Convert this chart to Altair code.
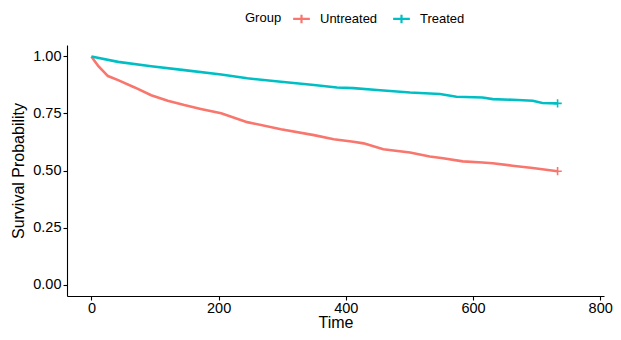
import altair as alt
import pandas as pd

groups = ["Untreated", "Treated"]
colors = ["#F8766D", "#00BFC4"]

untreated_time = [0, 5, 11, 26, 42, 68, 94, 120, 146, 172, 204, 245, 298, 350, 381, 412,
                  428, 459, 501, 532, 553, 584, 615, 631, 662, 694, 733]
untreated_surv = [1.0, 0.98, 0.957, 0.914, 0.896, 0.864, 0.830, 0.806, 0.787, 0.770, 0.751,
                  0.712, 0.681, 0.655, 0.637, 0.626, 0.619, 0.593, 0.579, 0.561, 0.554, 0.540,
                  0.535, 0.532, 0.521, 0.511, 0.497]

treated_time = [0, 42, 94, 146, 204, 245, 298, 350, 386, 412, 449, 501, 548, 574, 615, 631,
                662, 694, 709, 733]
treated_surv = [1.0, 0.976, 0.957, 0.940, 0.921, 0.904, 0.889, 0.875, 0.864, 0.861, 0.853,
                0.842, 0.835, 0.823, 0.820, 0.813, 0.810, 0.806, 0.796, 0.794]

x_ticks = [0, 200, 400, 600, 800]
y_ticks = [0.0, 0.25, 0.5, 0.75, 1.0]

rows = []
for t, s in zip(untreated_time, untreated_surv):
    rows.append({"Time": t, "Surv": s, "Group": "Untreated"})
for t, s in zip(treated_time, treated_surv):
    rows.append({"Time": t, "Surv": s, "Group": "Treated"})
df = pd.DataFrame(rows)

cens = pd.DataFrame([
    {"Time": untreated_time[-1], "Surv": untreated_surv[-1], "Group": "Untreated"},
    {"Time": treated_time[-1], "Surv": treated_surv[-1], "Group": "Treated"},
])

FONT = "Liberation Sans"

legend = alt.Legend(
    title="Group", orient="none", direction="horizontal", titleOrient="left",
    legendX=178, legendY=-36,
    symbolType="M-1,0L1,0M0,-0.5L0,0.5", symbolSize=280, symbolStrokeWidth=2.2,
    titleFont=FONT, titleFontSize=13, titleFontWeight="normal", titleColor="black",
    labelFont=FONT, labelFontSize=13, labelColor="black",
    columnPadding=10, labelOffset=9, titlePadding=10, symbolOffset=0,
)

color = alt.Color("Group:N", scale=alt.Scale(domain=groups, range=colors),
                  sort=groups, legend=legend)

xenc = alt.X("Time:Q", scale=alt.Scale(domain=[-38.4, 806], nice=False, zero=False),
             axis=alt.Axis(values=x_ticks, title="Time", format="d"))
yenc = alt.Y("Surv:Q", scale=alt.Scale(domain=[-0.05, 1.05], nice=False, zero=False),
             axis=alt.Axis(values=y_ticks, title="Survival Probability", format=".2f"))

lines = alt.Chart(df).mark_line(strokeWidth=2.6).encode(
    x=xenc, y=yenc, color=color, detail="Group:N", order="Time:Q")

pts = alt.Chart(cens).mark_point(
    shape="M-1,0L1,0M0,-1L0,1", size=70, filled=False, strokeWidth=1.6, opacity=1
).encode(x=xenc, y=yenc, color=color)

chart = (lines + pts).properties(
    width=537, height=251,
    autosize=alt.AutoSizeParams(type="none"),
    padding={"left": 59, "top": 37, "right": 9, "bottom": 36},
).configure_view(stroke=None).configure_axis(
    grid=False, domainColor="black", domainWidth=1.1, tickColor="black", tickSize=4,
    tickWidth=1.1, labelFont=FONT, labelFontSize=14.5, labelColor="black",
    titleFont=FONT, titleFontSize=16, titleFontWeight="normal", titleColor="black",
    labelPadding=2,
).configure_axisX(titlePadding=0, labelPadding=1).configure_axisY(titlePadding=6)

chart.save("out.html", embed_options={"renderer": "svg", "actions": False})
